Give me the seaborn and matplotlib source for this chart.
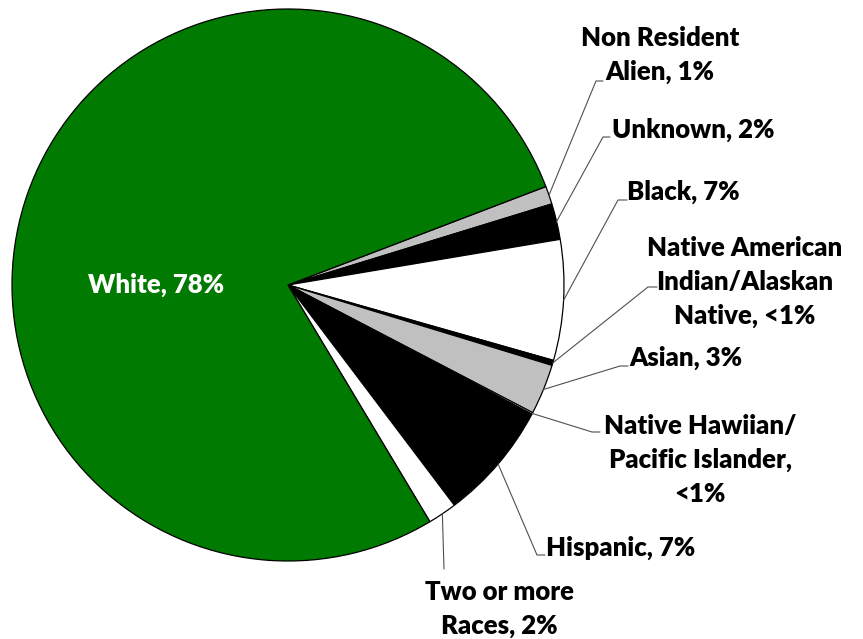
import matplotlib
matplotlib.use('Agg')
import numpy as np
import seaborn as sns
import matplotlib.pyplot as plt

sns.set_style('white')
plt.rcParams['font.family'] = ['Lato', 'DejaVu Sans']

# Slice data, clockwise from the top-right edge of the White slice
labels = ['Non Resident\nAlien, 1%', 'Unknown, 2%', 'Black, 7%',
          'Native American\nIndian/Alaskan\nNative, <1%', 'Asian, 3%',
          'Native Hawiian/\nPacific Islander,\n<1%', 'Hispanic, 7%',
          'Two or more\nRaces, 2%', 'White, 78%']
values = [1.06, 2.1, 7.05, 0.3, 2.95, 0.1, 6.95, 1.7, 77.79]
colors = ['#C0C0C0', '#000000', '#FFFFFF', '#000000', '#C0C0C0',
          '#FFFFFF', '#000000', '#FFFFFF', '#007A00']

# Label layout in pixel coords (origin top-left): text centre, leader elbow, leader end
text_pos = [(660, 55), (693, 130), (683, 192), (745, 282), (686, 358),
            (700, 460), (621, 548), (499, 609), (156, 285)]
elbows = [(596, 81), (603, 137), (618, 200), (648, 287), (620, 366),
          (592, 432), (537, 555), (444, 569), None]
ends = [(603, 81), (610, 137), (627, 200), (657, 287), (628, 366),
        (600, 432), (545, 555), (444, 569), None]

W, H = 863, 639
cx, cy, r = 288, H - 285, 276

fig = plt.figure(figsize=(W / 100, H / 100), dpi=100)
ax = fig.add_axes([0, 0, 1, 1])
wedges, _ = ax.pie(values, colors=colors, startangle=20.9, counterclock=False,
                   center=(cx, cy), radius=r,
                   wedgeprops=dict(edgecolor='black', linewidth=0.9))
ax.set_xlim(0, W)
ax.set_ylim(0, H)
ax.set_aspect('equal')
ax.axis('off')

for w, lab, tp, el, en in zip(wedges, labels, text_pos, elbows, ends):
    if el is None:
        ax.text(tp[0], H - tp[1], lab, ha='center', va='center',
                fontsize=18.5, fontweight='heavy', color='white')
        continue
    ang = np.deg2rad((w.theta1 + w.theta2) / 2)
    sx, sy = cx + r * np.cos(ang), cy + r * np.sin(ang)
    ax.plot([sx, el[0], en[0]], [sy, H - el[1], H - en[1]],
            color='#505050', linewidth=0.8)
    ax.text(tp[0], H - tp[1], lab, ha='center', va='center',
            multialignment='center', fontsize=18.5, fontweight='heavy',
            color='black', linespacing=1.5)

fig.savefig('out.png', dpi=100)
